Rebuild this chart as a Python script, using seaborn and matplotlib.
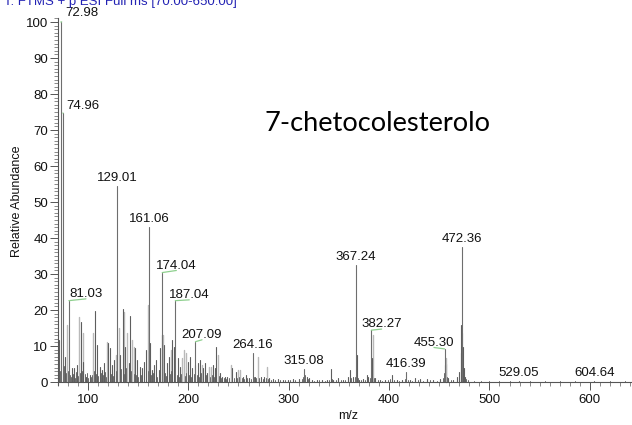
import numpy as np
import pandas as pd
import matplotlib
matplotlib.use("Agg")
import matplotlib.pyplot as plt
from matplotlib.ticker import MultipleLocator
import seaborn as sns

# ---- spectrum data (m/z, relative abundance %) ----
# annotated peaks
label_mz = [72.98, 74.96, 81.03, 129.01, 161.06, 174.04, 187.04, 207.09,
            264.16, 315.08, 367.24, 382.27, 416.39, 455.30, 472.36, 529.05, 604.64]
label_int = [100.0, 74.7, 22.6, 54.4, 43.0, 30.4, 22.6, 11.2,
             8.0, 3.6, 32.5, 14.4, 2.7, 9.2, 37.5, 0.4, 0.3]

# other resolved peaks
main_mz = [71.6, 76.8, 84.0, 86.3, 89.0, 93.3, 95.6, 98.3, 101.6, 107.3, 109.0,
           111.6, 114.0, 116.3, 120.0, 121.6, 124.0, 126.0, 132.3, 134.6, 137.3,
           140.6, 142.3, 147.3, 149.0, 151.6, 154.0, 156.3, 158.3, 162.3, 164.0,
           166.3, 168.3, 170.6, 172.3, 175.8, 179.0, 180.6, 184.0, 185.6, 189.6,
           191.6, 199.6, 201.6, 204.0, 206.3, 209.6, 211.3, 215.0, 216.6, 219.0,
           224.6, 226.3, 228.0, 231.6, 234.0, 236.3, 239.0, 244.0, 247.3, 254.0,
           257.3, 260.6, 266.3, 272.3, 275.6, 280.6, 284.0, 289.0, 294.0, 299.0,
           304.0, 310.6, 318.3, 320.6, 323.0, 328.0, 333.0, 338.0, 341.8, 344.4,
           349.4, 354.4, 359.4, 361.1, 364.4, 368.3, 370.3, 374.3, 377.7, 379.3,
           383.0, 386.0, 391.0, 396.0, 402.6, 407.6, 412.5, 420.8, 425.8, 430.8,
           437.5, 444.0, 450.7, 455.8, 459.0, 464.0, 467.3, 470.0, 471.2, 471.8,
           473.0, 473.6, 474.4, 475.4]
main_int = [11.7, 7.0, 3.8, 3.8, 4.7, 16.8, 5.6, 1.5, 1.9, 19.7, 10.3,
            4.3, 3.3, 5.2, 10.7, 9.4, 4.7, 6.1, 7.5, 20.2, 9.8,
            5.2, 18.3, 9.4, 6.1, 4.3, 3.8, 5.6, 8.9, 10.7, 3.3,
            4.7, 6.1, 3.3, 9.4, 10.3, 5.2, 7.0, 11.7, 9.8, 6.6,
            4.3, 5.6, 7.0, 3.8, 4.7, 5.2, 6.1, 3.8, 5.2, 2.4,
            4.7, 3.8, 9.8, 2.4, 1.5, 1.3, 1.5, 3.8, 2.9, 1.5,
            1.9, 1.0, 1.5, 1.5, 1.3, 1.0, 0.7, 0.7, 0.5, 0.5,
            0.7, 0.7, 1.5, 1.0, 0.5, 0.6, 0.6, 0.5, 3.5, 0.6,
            1.0, 0.6, 1.5, 3.2, 1.5, 7.5, 0.5, 0.8, 1.9, 1.5,
            6.6, 1.0, 0.6, 0.5, 1.9, 0.5, 0.5, 0.5, 1.0, 0.7,
            0.7, 0.5, 0.7, 4.7, 1.0, 0.5, 1.5, 2.9, 8.0, 15.8,
            13.5, 9.8, 4.0, 1.5]

# profile shoulders (lighter trace)
shoulder_mz = [79.0, 91.3, 95.0, 105.0, 119.0, 127.6, 130.6, 135.6, 139.0,
               144.0, 145.6, 159.6, 173.5, 175.0, 182.3, 194.0, 195.6, 197.3,
               213.3, 220.6, 222.3, 229.6, 242.3, 249.6, 251.6, 269.6, 278.0,
               383.6, 456.4, 457.2]
shoulder_int = [15.8, 18.1, 13.5, 13.5, 11.2, 7.5, 14.9, 19.5, 13.5,
                11.7, 9.8, 21.4, 13.1, 13.1, 8.9, 6.6, 8.9, 8.0,
                4.7, 4.1, 4.1, 7.5, 4.7, 3.3, 3.3, 7.0, 4.1,
                13.0, 6.6, 5.0]

# baseline noise
noise_mz = [70.5, 72.2, 75.8, 78.2, 80.1, 82.4, 83.2, 85.1, 87.4, 88.2, 90.2,
            92.3, 94.1, 96.7, 97.5, 99.4, 100.5, 102.8, 103.9, 106.2, 108.1,
            110.3, 112.8, 113.2, 115.2, 117.4, 118.2, 123.1, 125.2, 128.3, 131.5,
            133.2, 136.4, 138.2, 141.5, 143.2, 146.4, 148.2, 150.3, 153.2, 155.4,
            157.4, 160.3, 163.3, 165.2, 167.4, 169.3, 171.4, 176.8, 178.2, 181.4,
            183.2, 186.2, 188.3, 190.5, 192.8, 196.4, 198.2, 200.5, 202.8, 205.2,
            208.2, 210.4, 212.3, 214.2, 217.6, 218.3, 221.5, 223.4, 225.5, 227.2,
            230.4, 232.8, 235.2, 237.8, 240.5, 243.2, 245.6, 248.4, 250.6, 253.2,
            255.6, 258.8, 262.2, 265.5, 267.8, 270.8, 274.2, 277.2, 279.4, 282.3,
            286.5, 291.5, 296.4, 301.5, 306.5, 313.2, 314.3, 316.5, 319.4, 325.5,
            330.5, 336.5, 340.5, 343.3, 347.2, 352.4, 356.5, 362.4, 366.2, 369.4,
            372.5, 376.5, 381.2, 385.2, 388.5, 393.4, 398.5, 401.4, 405.3, 410.2,
            415.4, 418.4, 423.2, 428.4, 433.5, 440.5, 447.3, 453.8, 454.6, 457.8,
            461.5, 469.2, 476.5, 478.2, 485.0, 492.0, 500.0, 510.0, 520.0, 540.0,
            555.0, 570.0, 585.0, 620.0, 635.0]
noise_int = [2.0, 3.0, 4.5, 2.5, 3.0, 2.0, 1.5, 2.2, 1.2, 2.8, 1.8,
             2.5, 3.0, 2.2, 1.0, 2.5, 1.2, 1.5, 2.0, 3.0, 2.2,
             1.8, 2.5, 1.2, 2.0, 2.8, 1.5, 2.2, 1.8, 3.0, 2.5,
             3.5, 2.2, 4.0, 2.5, 3.0, 2.2, 2.0, 1.5, 2.0, 1.2,
             2.5, 3.0, 2.0, 2.5, 1.8, 1.5, 2.0, 2.5, 1.8, 2.2,
             3.0, 2.5, 2.0, 1.5, 2.2, 1.8, 2.5, 2.0, 1.5, 2.2,
             2.0, 1.5, 2.5, 1.8, 2.0, 1.2, 1.5, 2.0, 1.5, 2.2,
             1.8, 1.0, 1.2, 0.8, 1.0, 1.5, 1.2, 1.0, 1.5, 1.0,
             0.8, 1.0, 0.8, 1.5, 1.0, 1.2, 0.8, 1.0, 0.8, 0.6,
             0.6, 0.5, 0.6, 0.5, 0.6, 0.8, 1.5, 2.0, 0.8, 0.4,
             0.5, 0.4, 0.6, 0.8, 0.5, 0.5, 0.6, 1.0, 1.5, 1.0,
             0.6, 0.5, 1.0, 1.2, 0.5, 0.4, 0.5, 0.8, 0.5, 0.4,
             0.8, 0.5, 0.4, 0.5, 0.4, 0.5, 0.4, 1.0, 2.5, 1.5,
             0.5, 1.0, 0.8, 0.5, 0.4, 0.3, 0.3, 0.3, 0.3, 0.2,
             0.2, 0.3, 0.2, 0.2, 0.2]

# label placement relative to the peak apex (pixels); leader = green connector
label_layout = {
    72.98: (20.7, 9.0, True), 74.96: (20.2, 7.3, True), 81.03: (17.1, 6.6, True),
    174.04: (14.1, 6.9, True), 187.04: (14.0, 5.6, True), 207.09: (6.6, 6.7, True),
    382.27: (10.4, 5.9, True), 455.30: (-10.6, 6.2, True),
}

sns.set_theme(style="ticks")
plt.rcParams["font.family"] = ["Liberation Sans", "DejaVu Sans"]

W, H = 632, 425
fig = plt.figure(figsize=(W / 100, H / 100), dpi=100)
ax = fig.add_axes([57.8 / W, 40.1 / H, 574.2 / W, 366.5 / H])


def sticks(mz, inten, name):
    """Long-form table with one vertical segment per peak."""
    n = len(mz)
    return pd.DataFrame({
        "mz": np.repeat(mz, 2),
        "ab": np.ravel(np.column_stack([np.zeros(n), inten])),
        "peak": np.repeat([f"{name}{i}" for i in range(n)], 2),
    })


for mz, inten, name, col, lw in [
    (shoulder_mz, shoulder_int, "s", "#b9b9b9", 1.0),
    (noise_mz, noise_int, "n", "#6a6a6a", 0.7),
    (main_mz, main_int, "m", "#5e5e5e", 0.8),
    (label_mz, label_int, "l", "#6e6e6e", 0.8),
]:
    sns.lineplot(data=sticks(mz, inten, name), x="mz", y="ab", units="peak",
                 estimator=None, color=col, linewidth=lw, ax=ax, legend=False)

# peak annotations
for mz, ab in zip(label_mz, label_int):
    dx, dy, leader = label_layout.get(mz, (0.0, 8.0, False))
    kw = {}
    if leader:
        kw["arrowprops"] = dict(arrowstyle="-", color="#8fd08f", lw=0.9,
                                shrinkA=0, shrinkB=0, relpos=(0.5, 0.1))
    ax.annotate(f"{mz:.2f}", xy=(mz, ab), xytext=(dx, dy),
                textcoords="offset pixels", ha="center", va="center",
                fontsize=9.5, color="#111111", **kw)

ax.set_xlim(70, 642)
ax.set_ylim(-0.8, 101)
ax.spines["bottom"].set_position(("data", 0))
for s in ("top", "right"):
    ax.spines[s].set_visible(False)
for s in ("left", "bottom"):
    ax.spines[s].set_color("#555555")
    ax.spines[s].set_linewidth(0.8)

ax.xaxis.set_major_locator(MultipleLocator(100))
ax.xaxis.set_minor_locator(MultipleLocator(10))
ax.yaxis.set_major_locator(MultipleLocator(10))
ax.yaxis.set_minor_locator(MultipleLocator(1))
ax.set_yticks(range(0, 101, 10))
ax.tick_params(axis="both", which="major", direction="out", length=5.5, width=0.7,
               color="#555555", labelsize=9.5, labelcolor="#111111", pad=1.5)
ax.tick_params(axis="both", which="minor", direction="out", length=3.2, width=0.6,
               color="#777777")
ax.tick_params(axis="x", which="major", pad=3)

ax.set_xlabel("m/z", fontsize=9, color="#111111")
ax.set_ylabel("Relative Abundance", fontsize=9, color="#111111")
ax.xaxis.set_label_coords(0.5054, -0.068)
ax.yaxis.set_label_coords(-0.060, 0.5)

# compound name and scan filter header (the header runs off the top edge)
fig.text(265 / W, (H - 131) / H, "7-chetocolesterolo", fontsize=19.6,
         family=["Lato", "DejaVu Sans"], color="#000000", ha="left", va="baseline")
fig.text(4 / W, (H - 5) / H, "T: FTMS + p ESI Full ms [70.00-650.00]",
         fontsize=9.5, color="#2323b4", ha="left", va="baseline")

fig.savefig("out.png", dpi=100)
